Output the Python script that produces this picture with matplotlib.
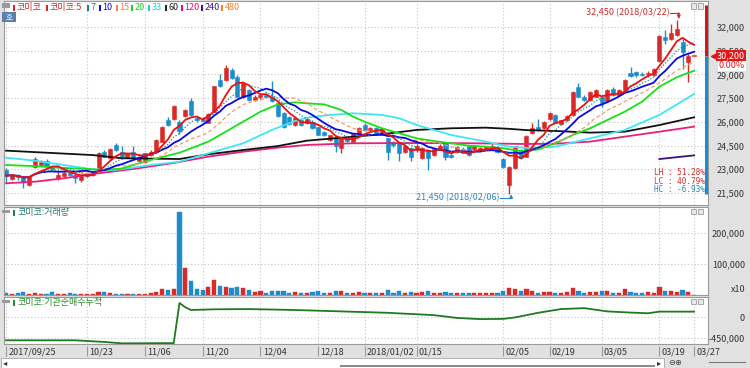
import numpy as np
import pandas as pd
import matplotlib
matplotlib.use("Agg")
import matplotlib.pyplot as plt
from matplotlib.patches import Rectangle
from matplotlib.transforms import blended_transform_factory

plt.rcParams['font.family'] = ['Noto Sans CJK KR', 'DejaVu Sans']

W, H = 750, 368
STOCK = "코미코"

# ---------------------------------------------------------------------------
# data
# ---------------------------------------------------------------------------
holidays = ["2017-10-02", "2017-10-03", "2017-10-04", "2017-10-05", "2017-10-06",
            "2017-10-09", "2017-12-25", "2017-12-29", "2018-01-01",
            "2018-02-15", "2018-02-16", "2018-03-01"]
dates = pd.bdate_range("2017-09-25", "2018-03-27", freq="C", holidays=holidays)

tick_pos = [0, 14, 24, 34, 44, 54, 62, 71, 86, 94, 103, 113, 119]
tick_labels = ["2017/09/25", "10/23", "11/06", "11/20", "12/04", "12/18",
               "2018/01/02", "01/15", "02/05", "02/19", "03/05", "03/19", "03/27"]

opens = [
    22950, 22400, 22650, 22550, 22000, 23150, 23300, 23550, 23200, 22450,
    22600, 22850, 22650, 22300, 22550, 22650, 23100, 24100, 23700, 24550,
    24100, 23800, 24100, 23550, 23450, 23900, 24100, 24750, 26150, 26200,
    26000, 26350, 27300, 26250, 26200, 25950, 26650, 28650, 28650, 29300,
    28850, 27600, 28000, 27400, 27550, 27700, 27600, 27200, 26550, 26300,
    25800, 26150, 25900, 26000, 25650, 25350, 24850, 25050, 24350, 25000,
    24750, 25300, 25800, 25500, 25600, 25200, 24950, 24750, 24650, 24100,
    24350, 24200, 23700, 24250, 23900, 24250, 24650, 23900, 24100, 24300,
    24450, 24300, 24200, 24250, 24300, 24400, 23650, 22000, 23050, 24200,
    23800, 25300, 25700, 25600, 26200, 26450, 25850, 26100, 26450, 28200,
    27600, 27400, 27600, 27600, 27350, 28100, 27700, 28000, 29100, 29150,
    29050, 29000, 28950, 29850, 31400, 31250, 31500, 31050, 29800, 30200]
highs = [
    23100, 22700, 22700, 22600, 22600, 23750, 23600, 23650, 23300, 22800,
    22900, 22950, 22700, 22600, 22750, 22850, 24100, 24250, 24350, 24650,
    24500, 24050, 24500, 23850, 24050, 24200, 24900, 25750, 26300, 27050,
    26100, 26800, 27500, 26400, 26300, 26550, 28300, 29000, 29600, 29400,
    28950, 28500, 28100, 27700, 27800, 27850, 28600, 27300, 26600, 26400,
    26300, 26200, 26250, 26100, 25700, 25400, 25200, 25100, 25000, 25100,
    25300, 25650, 25900, 25650, 25650, 25550, 25000, 24800, 24700, 24500,
    24400, 24600, 24400, 24300, 24350, 24600, 24700, 24000, 24450, 24400,
    24550, 24500, 24400, 24500, 24600, 24500, 23700, 23200, 24500, 24300,
    25200, 25900, 26200, 26050, 26600, 26500, 26150, 26450, 27950, 28450,
    27700, 27950, 28050, 27650, 28050, 28200, 28050, 28700, 29500, 29250,
    29150, 29200, 29400, 31500, 31800, 32200, 32450, 31250, 30300, 30200]
lows = [
    22200, 22350, 22300, 21800, 21950, 23100, 23200, 23100, 22900, 22350,
    22500, 22550, 22150, 22200, 22500, 22600, 23050, 23750, 23650, 24150,
    23650, 23700, 23700, 23500, 23400, 23850, 24050, 24700, 25750, 26150,
    25250, 26300, 26400, 26000, 26000, 25900, 26600, 28200, 28600, 28700,
    27550, 27500, 27300, 27300, 27450, 27500, 27250, 26300, 25600, 25800,
    25750, 25750, 25850, 25550, 25150, 25100, 24800, 24100, 24000, 24750,
    24700, 25250, 25450, 25400, 25250, 25150, 23600, 24400, 23500, 24050,
    23500, 24100, 23650, 22950, 23850, 24200, 23600, 23700, 24050, 24000,
    23850, 24100, 24150, 24200, 24250, 24000, 23050, 21450, 23000, 23650,
    23750, 25250, 25450, 25550, 26150, 25900, 25800, 26050, 26400, 27550,
    27300, 27350, 27550, 26950, 27300, 27650, 27650, 27950, 28850, 28850,
    28900, 28850, 28900, 29800, 30900, 31200, 31450, 29350, 28500, 30200]
closes = [
    22600, 22650, 22500, 22200, 22550, 23650, 23450, 23200, 23000, 22650,
    22750, 22650, 22450, 22550, 22700, 22800, 24050, 23800, 24300, 24200,
    23700, 24000, 23750, 23800, 24000, 24100, 24850, 25700, 25800, 27000,
    25400, 26750, 26450, 26100, 26050, 26500, 28250, 28250, 29400, 28750,
    27600, 28450, 27400, 27600, 27700, 27600, 27300, 26350, 25700, 25850,
    26250, 25800, 26200, 25600, 25200, 25150, 25150, 24450, 24950, 24800,
    25250, 25600, 25500, 25600, 25300, 25500, 24100, 24550, 24000, 24450,
    23800, 24500, 24350, 23700, 24300, 24500, 23800, 23750, 24400, 24050,
    23900, 24450, 24350, 24400, 24500, 24100, 23150, 23150, 24450, 23700,
    25100, 25600, 25500, 26000, 26550, 25950, 26100, 26400, 27900, 27600,
    27400, 27900, 28000, 27200, 28000, 27700, 28000, 28650, 28900, 28950,
    28950, 29100, 29350, 31450, 31200, 31650, 31850, 30450, 30200, 30200]
# volume, shown in units of 10 shares
volumes = [
    8000, 4500, 6500, 8500, 4500, 5500, 4500, 4500, 8500, 4500,
    4500, 6500, 3500, 2500, 3500, 3500, 11000, 8500, 5500, 4500,
    3500, 3500, 2500, 3500, 3500, 5500, 8500, 19500, 16000, 18000,
    267000, 88000, 46000, 18000, 16000, 25000, 48000, 29000, 27000, 21500,
    25000, 21500, 15000, 10000, 12000, 8000, 14000, 13000, 12000, 8000,
    10000, 7000, 8000, 9000, 12000, 8000, 7000, 14000, 12000, 6000,
    8000, 9000, 8000, 6000, 7000, 8000, 16000, 8000, 12000, 8000,
    10000, 8000, 9000, 12000, 8000, 7000, 10000, 6000, 7000, 8000,
    8000, 6000, 5000, 6000, 6000, 7000, 14000, 22000, 18000, 12000,
    20000, 12000, 8000, 10000, 11000, 6500, 5500, 9500, 23500, 12000,
    6500, 8500, 11000, 12000, 12000, 7500, 6500, 18000, 8500, 7500,
    5500, 8500, 7500, 24500, 12000, 12000, 8500, 17000, 11000, 0]

# long moving averages, read at sample points
ma20_idx = [0, 5, 9, 14, 17, 20, 25, 30, 32, 35, 38, 41, 44, 47, 50, 52, 55, 58, 60,
            62, 65, 68, 71, 74, 77, 80, 83, 86, 89, 92, 95, 98, 101, 104, 107, 110,
            113, 116, 119]
ma20_val = [23270, 23200, 23100, 23020, 22955, 23050, 23590, 24050, 24330, 24750,
            25380, 26015, 26645, 27110, 27240, 27175, 27110, 26755, 26330, 26015,
            25595, 25280, 24960, 24790, 24645, 24495, 24430, 24330, 24150, 24250,
            24645, 25170, 25595, 26120, 26645, 27280, 28230, 28825, 29240]
ma33_idx = [0, 5, 10, 15, 19, 25, 30, 35, 41, 46, 50, 52, 56, 60, 65, 68, 71, 74, 77,
            83, 87, 90, 95, 101, 107, 113, 119]
ma33_val = [23735, 23545, 23270, 23000, 22960, 23270, 23480, 24010, 24645, 25490,
            26060, 26265, 26440, 26545, 26440, 26230, 25805, 25490, 25170, 24750,
            24430, 24350, 24430, 24960, 25490, 26440, 27770]
ma60_idx = [0, 15, 20, 30, 35, 41, 47, 52, 58, 65, 71, 77, 83, 87, 90, 95, 101, 107,
            113, 119]
ma60_val = [24180, 23900, 23700, 23650, 23950, 24220, 24470, 24810, 25000, 25215,
            25490, 25595, 25635, 25560, 25480, 25425, 25320, 25380, 25800, 26290]
ma120_idx = [0, 5, 10, 16, 22, 29, 35, 41, 47, 52, 60, 70, 80, 90, 95, 101, 107, 113,
             119]
ma120_val = [22115, 22215, 22430, 22750, 23020, 23400, 23800, 24115, 24370, 24540,
             24645, 24660, 24650, 24600, 24620, 24750, 25065, 25380, 25700]
ma240_idx = [113, 119]
ma240_val = [23650, 23880]

# institutional net buying, cumulative
inst_idx = [0, 12, 17, 20, 28, 29, 30, 31, 32, 36, 42, 50, 58, 66, 74, 78, 82, 86,
            88, 92, 96, 100, 104, 108, 111, 113, 119]
inst_val = [-500000, -500000, -535000, -565000, -560000, -560000, 300000, 210000,
            150000, 165000, 170000, 150000, 120000, 90000, 40000, -20000, -45000,
            -40000, -10000, 90000, 170000, 190000, 120000, 95000, 80000, 115000,
            115000]

price_ticks = [21500, 23000, 24500, 26000, 27500, 29000, 30500, 32000]
vol_ticks = [100000, 200000]
inst_ticks = [-450000, 0]

# ---------------------------------------------------------------------------
# style
# ---------------------------------------------------------------------------
BG = "#e1e1e1"
RED = "#d92a2a"
BLUE = "#1b8ccc"
GRID = "#c4c4c4"
FRAME = "#9a9a9a"
TXT = "#333333"
FS = 6.5


def add_axes_px(l, t, r, b, **kw):
    return fig.add_axes([l / W, 1 - b / H, (r - l) / W, (b - t) / H], **kw)


def rect_px(l, t, r, b, **kw):
    fig.add_artist(Rectangle((l / W, 1 - b / H), (r - l) / W, (b - t) / H,
                             transform=fig.transFigure, **kw))


def text_px(x, y, s, **kw):
    fig.text(x / W, 1 - y / H, s, **kw)


def style_panel(ax, yticks, ylabels):
    ax.set_facecolor("white")
    for sp in ax.spines.values():
        sp.set_color(FRAME)
        sp.set_linewidth(0.8)
    ax.set_xlim(-0.35, 121.4)
    ax.set_xticks(tick_pos)
    ax.set_yticks(yticks)
    ax.set_yticklabels(ylabels)
    ax.tick_params(axis="x", length=0, labelbottom=False)
    ax.tick_params(axis="y", length=0, left=False, labelleft=False,
                   labelright=True, pad=26.6, labelsize=FS, labelcolor=TXT)
    for lab in ax.get_yticklabels():
        lab.set_horizontalalignment("right")
    ax.grid(True, linestyle=(0, (1, 2)), color=GRID, linewidth=0.8)
    ax.set_axisbelow(True)


fig = plt.figure(figsize=(W / 100, H / 100), dpi=100, facecolor=BG)

# ---------------------------------------------------------------------------
# price panel
# ---------------------------------------------------------------------------
ax = add_axes_px(4, 1, 708, 205)
style_panel(ax, price_ticks, [f"{v:,}" for v in price_ticks])
ax.set_ylim(20740, 33650)

idx = np.arange(len(closes))
o, hi_, lo_, c = (np.array(a, dtype=float) for a in (opens, highs, lows, closes))
col = np.where(c >= o, RED, BLUE)
ax.vlines(idx, lo_, hi_, colors=col, linewidth=1.0, zorder=2)
ax.bar(idx, np.maximum(np.abs(c - o), 45), bottom=np.minimum(o, c), width=0.7,
       color=col, edgecolor=col, linewidth=0.4, zorder=2.5)

close_s = pd.Series(c)
ax.plot(ma240_idx, ma240_val, color="#3c1478", lw=1.3, zorder=3.0)
ax.plot(ma120_idx, ma120_val, color="#e8207a", lw=1.3, zorder=3.1)
ax.plot(ma60_idx, ma60_val, color="#111111", lw=1.3, zorder=3.2)
ax.plot(ma33_idx, ma33_val, color="#3fe6f6", lw=1.3, zorder=3.3)
ax.plot(ma20_idx, ma20_val, color="#18e018", lw=1.3, zorder=3.4)
ax.plot(idx, close_s.rolling(15, min_periods=1).mean(), color="#f39a6e", lw=0.9,
        linestyle=(0, (3, 2)), zorder=3.5)
ax.plot(idx, close_s.rolling(10, min_periods=1).mean(), color="#0a0ae0", lw=1.3,
        zorder=3.6)
ax.plot(idx, close_s.rolling(7, min_periods=1).mean(), color="#1a8a8a", lw=0.9,
        linestyle=(0, (1, 1.5)), zorder=3.7)
ax.plot(idx, close_s.rolling(5, min_periods=1).mean(), color="#ee1010", lw=1.3,
        zorder=3.8)

# high / low markers
i_hi, i_lo = int(np.argmax(hi_)), int(np.argmin(lo_))
p_hi, p_lo, last = hi_[i_hi], lo_[i_lo], c[-1]
y_hi_lab, y_lo_lab = 32894, 21200
ax.text(i_hi - 1.2, y_hi_lab, f"{int(p_hi):,} ({dates[i_hi]:%Y/%m/%d})", color="#c83030",
        fontsize=FS, ha="right", va="center", zorder=6)
ax.plot([i_hi - 1.1, i_hi + 0.35], [y_hi_lab, y_hi_lab], color="#c83030", lw=0.8, zorder=6)
ax.annotate("", xy=(i_hi + 0.35, p_hi + 60), xytext=(i_hi + 0.35, y_hi_lab),
            arrowprops=dict(arrowstyle="-|>", color="#c83030", lw=0.8,
                            mutation_scale=5, shrinkA=0, shrinkB=0), zorder=6)
ax.text(i_lo - 1.6, y_lo_lab, f"{int(p_lo):,} ({dates[i_lo]:%Y/%m/%d})", color="#2a86bf",
        fontsize=FS, ha="right", va="center", zorder=6)
ax.plot([i_lo - 1.5, i_lo + 0.35], [y_lo_lab, y_lo_lab], color="#2a86bf", lw=0.8, zorder=6)
ax.annotate("", xy=(i_lo + 0.35, p_lo - 30), xytext=(i_lo + 0.35, y_lo_lab),
            arrowprops=dict(arrowstyle="-|>", color="#2a86bf", lw=0.8,
                            mutation_scale=5, shrinkA=0, shrinkB=0), zorder=6)

# ratios box
lh = (p_hi - p_lo) / p_lo * 100
lc = (last - p_lo) / p_lo * 100
hc = (last - p_hi) / p_hi * 100
mono = dict(fontsize=5.6, family="DejaVu Sans Mono", va="center", ha="left")
text_px(654, 173, f"LH : {lh:.2f}%", color="#d03030", **mono)
text_px(654, 181.5, f"LC : {lc:.2f}%", color="#d03030", **mono)
text_px(654, 190, f"HC : {hc:.2f}%", color="#2a86bf", **mono)

# current price marker on the right edge
bt = blended_transform_factory(ax.transAxes, ax.transData)
ax.plot([0.9965, 0.9965], [last, 33400], transform=bt, color="#d01818", lw=2.2,
        clip_on=False, zorder=7, solid_capstyle="butt")
ax.plot([0.9965, 0.9965], [p_lo, last], transform=bt, color="#1b8ccc", lw=2.2,
        clip_on=False, zorder=7, solid_capstyle="butt")
ax.plot([1.0085], [last], marker="<", markersize=4.5, color="#d01818",
        transform=bt, clip_on=False, zorder=7)
chg = (c[-1] - c[-2]) / c[-2] * 100
ax.text(1.0526, last, f"{int(last):,}", transform=bt, ha="right", va="center",
        fontsize=FS, color="white", zorder=8,
        bbox=dict(boxstyle="square,pad=0.12", fc="#e01818", ec="none"))
ax.annotate(f"{chg:.2f}%", xy=(1.0526, last), xycoords=bt, xytext=(0, -7.5),
            textcoords="offset points", ha="right", va="center", fontsize=FS,
            color="#e01818", zorder=8,
            bbox=dict(boxstyle="square,pad=0.08", fc="white", ec="none"))

# ---------------------------------------------------------------------------
# volume panel
# ---------------------------------------------------------------------------
axv = add_axes_px(4, 207, 708, 295)
style_panel(axv, vol_ticks, [f"{v:,}" for v in vol_ticks])
axv.set_ylim(0, 284000)
axv.bar(idx, volumes, width=0.72, color=col, edgecolor=col, linewidth=0.3, zorder=2)
text_px(745, 290, "x10", fontsize=FS, color=TXT, ha="right", va="center")

# ---------------------------------------------------------------------------
# institutional cumulative panel
# ---------------------------------------------------------------------------
axi = add_axes_px(4, 297, 708, 344)
style_panel(axi, inst_ticks, [f"{v:,}" for v in inst_ticks])
axi.set_ylim(-579000, 429000)
axi.plot(inst_idx, inst_val, color="#1f7a1f", lw=1.3, zorder=3)

# ---------------------------------------------------------------------------
# date strip + scrollbar
# ---------------------------------------------------------------------------
axd = add_axes_px(4, 345, 708, 357)
axd.set_xlim(-0.35, 121.4)
axd.set_ylim(0, 1)
axd.set_facecolor(BG)
axd.axis("off")
axd.vlines(tick_pos, 0.05, 0.95, color="#9a9a9a", lw=0.8)
for p, lab in zip(tick_pos, tick_labels):
    axd.text(p + 0.4, 0.45, lab, fontsize=FS, color=TXT, ha="left", va="center")

rect_px(1, 358, 664, 367.5, facecolor="white", edgecolor="#a8a8a8", lw=0.6)
rect_px(340, 364.5, 655, 367, facecolor="#8c8c8c", edgecolor="none")
text_px(3, 362.5, "◂", fontsize=6, color="#333333", va="center",
        family="DejaVu Sans")
text_px(657, 362.5, "▸", fontsize=6, color="#333333", va="center",
        family="DejaVu Sans")
text_px(668, 362.5, "⊖⊕", fontsize=6, color="#444444", va="center",
        family="DejaVu Sans")
fig.add_artist(plt.Line2D([709 / W, 745 / W], [1 - 362 / H] * 2, color="#777777",
                          lw=0.8, transform=fig.transFigure))

# ---------------------------------------------------------------------------
# legends / panel titles
# ---------------------------------------------------------------------------
rect_px(2, 3, 10, 7.5, facecolor="#9a9a9a", edgecolor="none")
rect_px(2, 12, 16, 21.5, facecolor="#5b7fa6", edgecolor="none")
text_px(9, 16.8, "호", fontsize=5.5, color="white", ha="center", va="center")

legend_items = [(STOCK, "#d02828", 13), (f"{STOCK}:5", "#d02828", 46),
                ("7", "#178484", 87), ("10", "#1010d0", 99), ("15", "#f08050", 116),
                ("20", "#22cc22", 131), ("33", "#22ccdd", 148), ("60", "#202020", 165),
                ("120", "#e0107a", 181), ("240", "#401880", 201), ("480", "#f08020", 221)]
for lab, colr, bx in legend_items:
    rect_px(bx, 4.5, bx + 2, 10.5, facecolor=colr, edgecolor="none")
    text_px(bx + 3.5, 7.5, lab, fontsize=FS, color=colr, ha="left", va="center")

for top, lab, colr in [(207, f"{STOCK}:거래량", "#1f7a6e"),
                       (297, f"{STOCK}:기관순매수누적", "#2a8a2a")]:
    rect_px(2, top + 2.5, 10, top + 6, facecolor="#9a9a9a", edgecolor="none")
    rect_px(13, top + 3, 15, top + 9, facecolor=colr, edgecolor="none")
    text_px(17, top + 6, lab, fontsize=FS, color=colr, ha="left", va="center")

for top in (2, 207, 297):
    for bx in (691, 698):
        rect_px(bx, top + 1.5, bx + 5, top + 6.5, facecolor="#e8e8e8",
                edgecolor="#8a8a8a", lw=0.5)

fig.savefig("out.png", dpi=100, facecolor=BG)
